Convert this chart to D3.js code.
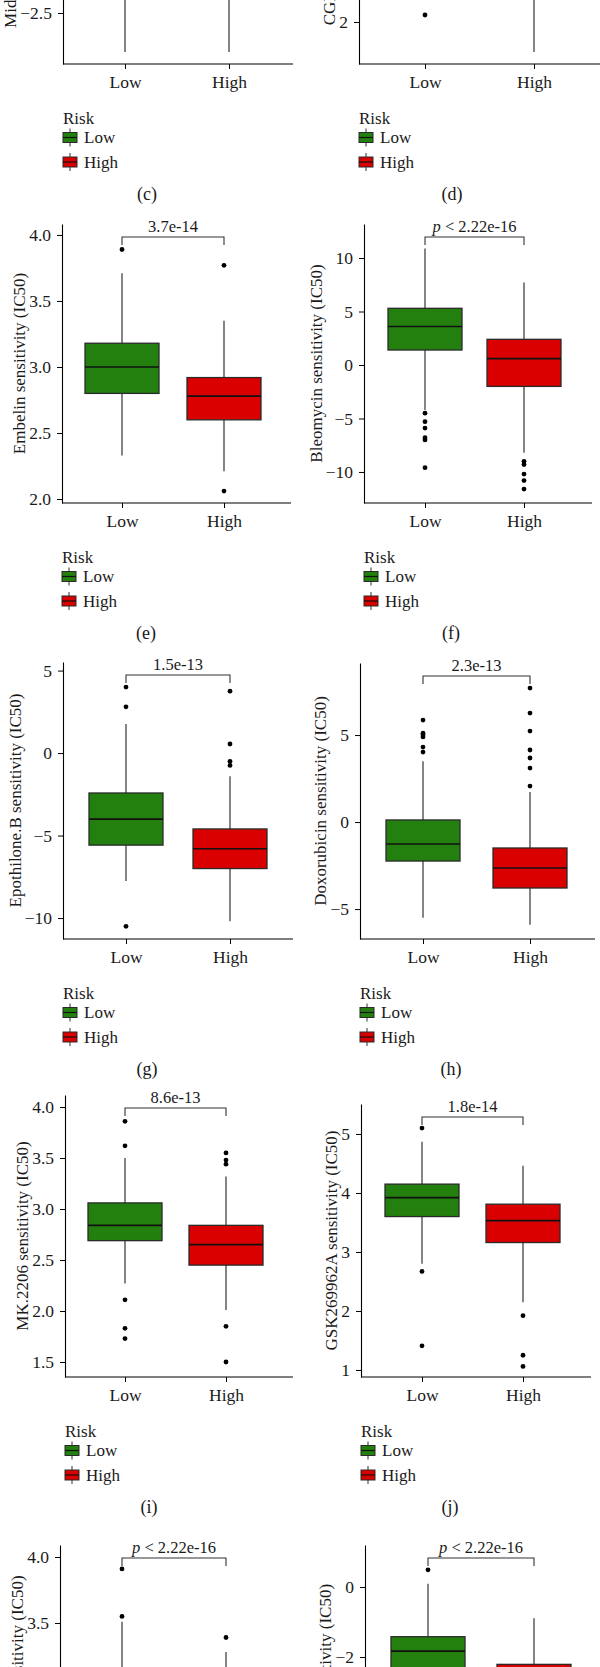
<!DOCTYPE html>
<html><head><meta charset="utf-8">
<script src="https://cdn.jsdelivr.net/npm/d3@7"></script>
<style>
body{margin:0;background:#fff}
svg{display:block}
text{font-family:"Liberation Serif","DejaVu Serif",serif;fill:#1a1a1a}
</style>
</head><body><div id="chart"></div>
<script>
// ---------- DATA ----------
const groups = ["Low", "High"];
const drugs = ["Midostaurin", "CGP.60474", "Embelin", "Bleomycin", "Epothilone.B",
               "Doxorubicin", "MK.2206", "GSK269962A", "Lenalidomide", "Vinblastine"];
const panelLabels = ["(c)", "(d)", "(e)", "(f)", "(g)", "(h)", "(i)", "(j)", "(k)", "(l)"];
const pValues = ["4.1e-12", "6.3e-10", "3.7e-14", "p < 2.22e-16", "1.5e-13",
                 "2.3e-13", "8.6e-13", "1.8e-14", "p < 2.22e-16", "p < 2.22e-16"];
const yTicks = [
  [-2.5, 0, 2.5], [2, 4, 6, 8], [2.0, 2.5, 3.0, 3.5, 4.0], [-10, -5, 0, 5, 10],
  [-10, -5, 0, 5], [-5, 0, 5], [1.5, 2.0, 2.5, 3.0, 3.5, 4.0], [1, 2, 3, 4, 5],
  [2.0, 2.5, 3.0, 3.5, 4.0], [-6, -4, -2, 0]
];
const tickDecimals = [1, 0, 1, 0, 0, 0, 1, 0, 1, 0];
// box stats per panel: [lower whisker, Q1, median, Q3, upper whisker]
const lowStats = [
  [-3.57, -1.2, 0.2, 1.5, 3.0], [2.8, 4.2, 5.0, 5.8, 7.8], [2.33, 2.80, 3.00, 3.18, 3.71],
  [-4.2, 1.4, 3.6, 5.3, 10.9], [-7.76, -5.58, -4.0, -2.42, 1.76], [-5.5, -2.24, -1.26, 0.12, 3.5],
  [2.27, 2.69, 2.84, 3.06, 3.50], [2.8, 3.6, 3.92, 4.15, 4.87], [2.15, 2.62, 2.8, 3.0, 3.51],
  [-4.5, -2.8, -1.83, -1.42, 0.09]
];
const highStats = [
  [-3.57, -1.5, -0.5, 0.8, 2.5], [1.14, 3.3, 4.0, 4.8, 6.6], [2.21, 2.60, 2.78, 2.92, 3.35],
  [-8.2, -2.0, 0.6, 2.4, 7.7], [-10.2, -7.0, -5.8, -4.6, -1.4], [-5.9, -3.79, -2.64, -1.49, 1.72],
  [2.01, 2.45, 2.65, 2.84, 3.32], [2.15, 3.16, 3.53, 3.81, 4.46], [2.0, 2.4, 2.55, 2.75, 3.28],
  [-5.5, -3.5, -2.8, -2.21, -0.89]
];
const lowOutliers = [
  [], [2.2], [3.89], [-4.5, -5.3, -5.9, -6.8, -7.0, -9.6], [4.0, 2.8, -10.5],
  [5.86, 5.11, 5.0, 4.89, 4.31, 4.02], [3.86, 3.62, 2.11, 1.83, 1.73], [5.1, 2.67, 1.41],
  [3.91, 3.55], [0.49]
];
const highOutliers = [
  [], [], [3.77, 2.06], [-9.0, -9.3, -10.2, -10.8, -11.6], [3.75, 0.55, -0.5, -0.75],
  [7.7, 6.26, 5.23, 4.14, 3.68, 3.1, 2.07], [3.55, 3.48, 3.44, 1.85, 1.50], [1.92, 1.25, 1.06],
  [3.39], []
];
const yDomains = [
  [-3.9, 3.76], [0.8, 8.77], [1.970, 4.083], [-12.9, 13.18], [-11.27, 5.52],
  [-6.72, 9.14], [1.353, 4.118], [0.881, 5.508], [1.977, 4.091], [-6.77, 1.2]
];

// ---------- LAYOUT (pixels) ----------
const layout = [
  {ax: 63,  xl: 125, xh: 229, xe: 293, top: -215, bottom: 64,   cx: 147},
  {ax: 359, xl: 425, xh: 534, xe: 600, top: -215, bottom: 64,   cx: 452},
  {ax: 62,  xl: 122, xh: 224, xe: 291, top: 224,  bottom: 503,  cx: 146},
  {ax: 364, xl: 425, xh: 524, xe: 592, top: 224,  bottom: 503,  cx: 451},
  {ax: 63,  xl: 126, xh: 230, xe: 293, top: 662,  bottom: 939,  cx: 147},
  {ax: 360, xl: 423, xh: 530, xe: 595, top: 663,  bottom: 939,  cx: 451},
  {ax: 65,  xl: 125, xh: 226, xe: 293, top: 1095, bottom: 1377, cx: 149},
  {ax: 361, xl: 422, xh: 523, xe: 591, top: 1104, bottom: 1377, cx: 450},
  {ax: 60,  xl: 122, xh: 226, xe: 290, top: 1545, bottom: 1824, cx: 147},
  {ax: 365, xl: 428, xh: 534, xe: 598, top: 1545, bottom: 1824, cx: 451}
];
const fillColor = {Low: "#23800f", High: "#db0000"};
const halfBox = 37;
const fs = {tick: "17.5px", title: "17px", p: "16.5px", legend: "17px", caption: "18px"};

const svg = d3.select("#chart").append("svg").attr("width", 600).attr("height", 1667);

drugs.forEach((drug, i) => {
  const L = layout[i];
  const g = svg.append("g");
  const y = d3.scaleLinear().domain(yDomains[i]).range([L.bottom, L.top]);
  const x = d3.scalePoint().domain(groups).range([L.xl, L.xh]);
  const fmt = d3.format("." + tickDecimals[i] + "f");

  // y axis
  const ya = g.append("g").attr("transform", `translate(${L.ax},0)`)
    .call(d3.axisLeft(y).tickValues(yTicks[i]).tickFormat(fmt).tickSize(5).tickPadding(6).tickSizeOuter(0));
  ya.selectAll("text").style("font-size", fs.tick).attr("fill", "#1a1a1a");
  ya.select(".domain").attr("stroke", "#000").attr("stroke-width", 1.1);
  ya.selectAll(".tick line").attr("stroke", "#000");

  // x axis
  g.append("line").attr("x1", L.ax).attr("x2", L.xe).attr("y1", L.bottom).attr("y2", L.bottom)
    .attr("stroke", "#000").attr("stroke-width", 1.1);
  const xa = g.append("g").attr("transform", `translate(0,${L.bottom})`)
    .call(d3.axisBottom(x).tickSize(5).tickPadding(7));
  xa.select(".domain").remove();
  xa.selectAll("text").style("font-size", fs.tick).attr("fill", "#1a1a1a");
  xa.selectAll(".tick line").attr("stroke", "#000");

  // y title
  const bb = ya.node().getBBox();
  const tx = L.ax + bb.x - 4, ty = (L.top + L.bottom) / 2;
  g.append("text").attr("transform", `translate(${tx},${ty}) rotate(-90)`)
    .attr("text-anchor", "middle").style("font-size", fs.title)
    .text(drug + " sensitivity (IC50)");

  // boxes
  const stats = {Low: lowStats[i], High: highStats[i]};
  const outs = {Low: lowOutliers[i], High: highOutliers[i]};
  groups.forEach(gr => {
    const s = stats[gr], cxp = x(gr);
    g.append("line").attr("x1", cxp).attr("x2", cxp).attr("y1", y(s[0])).attr("y2", y(s[1]))
      .attr("stroke", "#333").attr("stroke-width", 1.2);
    g.append("line").attr("x1", cxp).attr("x2", cxp).attr("y1", y(s[3])).attr("y2", y(s[4]))
      .attr("stroke", "#333").attr("stroke-width", 1.2);
    g.append("rect").attr("x", cxp - halfBox).attr("width", halfBox * 2)
      .attr("y", y(s[3])).attr("height", y(s[1]) - y(s[3]))
      .attr("fill", fillColor[gr]).attr("stroke", "#2a2a2a").attr("stroke-width", 1.3);
    g.append("line").attr("x1", cxp - halfBox).attr("x2", cxp + halfBox)
      .attr("y1", y(s[2])).attr("y2", y(s[2])).attr("stroke", "#111").attr("stroke-width", 1.7);
    g.selectAll(null).data(outs[gr]).enter().append("circle")
      .attr("cx", cxp).attr("cy", d => y(d)).attr("r", 2.4).attr("fill", "#000");
  });

  // bracket + p value
  const by = L.top + 13;
  g.append("path").attr("d", `M${L.xl},${by + 8}V${by}H${L.xh}V${by + 8}`)
    .attr("fill", "none").attr("stroke", "#333").attr("stroke-width", 1.1);
  const pt = g.append("text").attr("x", (L.xl + L.xh) / 2).attr("y", by - 5)
    .attr("text-anchor", "middle").style("font-size", fs.p);
  const pv = pValues[i];
  if (pv.startsWith("p ")) {
    pt.append("tspan").style("font-style", "italic").text("p");
    pt.append("tspan").text(pv.slice(1));
  } else pt.text(pv);

  // legend
  const lx = L.ax;
  g.append("text").attr("x", lx).attr("y", L.bottom + 60).style("font-size", fs.legend).text("Risk");
  groups.forEach((gr, k) => {
    const cy = L.bottom + 73.5 + k * 24.5;
    g.append("line").attr("x1", lx + 7).attr("x2", lx + 7).attr("y1", cy - 9).attr("y2", cy + 9)
      .attr("stroke", "#333").attr("stroke-width", 1);
    g.append("rect").attr("x", lx).attr("y", cy - 5).attr("width", 14).attr("height", 10)
      .attr("fill", fillColor[gr]).attr("stroke", "#2a2a2a").attr("stroke-width", 1);
    g.append("line").attr("x1", lx).attr("x2", lx + 14).attr("y1", cy).attr("y2", cy)
      .attr("stroke", "#111").attr("stroke-width", 1.2);
    g.append("text").attr("x", lx + 21).attr("y", cy + 5.5).style("font-size", fs.legend).text(gr);
  });

  // caption
  g.append("text").attr("x", L.cx).attr("y", L.bottom + 136).attr("text-anchor", "middle")
    .style("font-size", fs.caption).text(panelLabels[i]);
});
</script>
</body></html>
